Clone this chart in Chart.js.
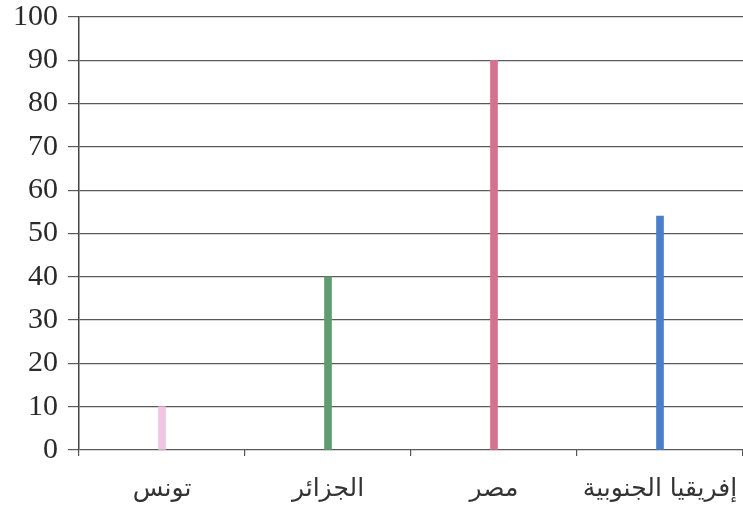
<!DOCTYPE html>
<html>
<head>
<meta charset="utf-8">
<script src="https://cdn.jsdelivr.net/npm/chart.js@4/dist/chart.umd.min.js"></script>
<style>
  html, body { margin: 0; padding: 0; background: #fff; }
  canvas { display: block; }
</style>
</head>
<body>
<canvas id="chart" width="743" height="506"></canvas>
<script>
// Chart data
const countries = ["تونس", "الجزائر", "مصر", "إفريقيا الجنوبية"];
const values = [10, 40, 90, 54];
const barColors = ["#f1c4e4", "#5f9d70", "#d5738f", "#4a7fcc"];
const yTicks = [0, 10, 20, 30, 40, 50, 60, 70, 80, 90, 100];

const ctx = document.getElementById("chart").getContext("2d");

new Chart(ctx, {
  type: "bar",
  data: {
    labels: countries,
    datasets: [
      {
        data: values,
        backgroundColor: barColors,
        barThickness: 7,
      },
    ],
  },
  options: {
    responsive: false,
    animation: false,
    layout: { padding: { top: 17, right: 0, left: 0, bottom: 0 } },
    plugins: {
      legend: { display: false },
      tooltip: { enabled: false },
    },
    scales: {
      x: {
        afterFit: (scale) => {
          scale.height = 56;
          scale.paddingLeft = 0;
          scale.paddingRight = 0;
        },
        grid: {
          offset: true,
          drawOnChartArea: false,
          tickLength: 6,
          color: "#555",
          lineWidth: 1.2,
        },
        border: { display: false },
        ticks: {
          color: "#333",
          padding: 18,
          maxRotation: 0,
          font: { family: "'DejaVu Sans', sans-serif", size: 25 },
        },
      },
      y: {
        min: 0,
        max: 100,
        afterFit: (scale) => {
          scale.width = 79;
          scale.paddingTop = 0;
          scale.paddingBottom = 0;
        },
        afterBuildTicks: (scale) => {
          scale.ticks = yTicks.map((v) => ({ value: v }));
        },
        grid: {
          color: "#5a5a5a",
          lineWidth: 1.2,
          tickLength: 11,
        },
        border: { display: true, color: "#444", width: 1.5 },
        ticks: {
          color: "#2a2a2a",
          padding: 10,
          font: { family: "'Liberation Serif', 'Times New Roman', serif", size: 30 },
        },
      },
    },
  },
});
</script>
</body>
</html>
